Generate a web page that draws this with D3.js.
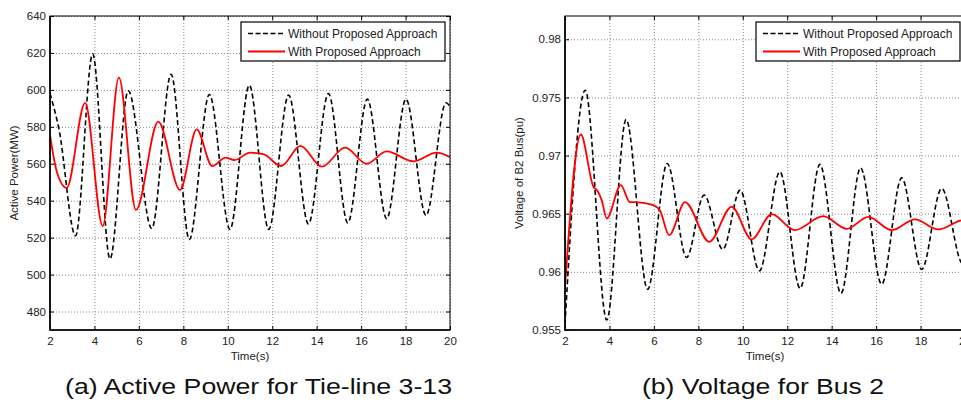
<!DOCTYPE html>
<html>
<head>
<meta charset="utf-8">
<script src="https://cdn.jsdelivr.net/npm/d3@7"></script>
<style>
  body { margin: 0; background: #fff; }
  svg { display: block; font-family: "Liberation Sans", Arial, sans-serif; }
</style>
</head>
<body>
<div id="chart"></div>
<script>
// ---- data: [time (s), value] at peaks / troughs / bends ----
var timeTicks = [2, 4, 6, 8, 10, 12, 14, 16, 18, 20];
var powerTicks = [480, 500, 520, 540, 560, 580, 600, 620, 640];
var voltageTicks = [0.955, 0.96, 0.965, 0.97, 0.975, 0.98];
var voltageTickLabels = ["0.955", "0.96", "0.965", "0.97", "0.975", "0.98"];

var powerWithout = [[2, 598], [2.4, 579], [3.15, 521], [3.92, 619.5], [4.7, 508.5], [5.52, 599.5],
  [6.58, 525], [7.45, 608.5], [8.27, 519], [9.17, 597.5], [10.1, 524.5], [10.97, 602.5],
  [11.84, 524.5], [12.74, 597.2], [13.63, 527.4], [14.53, 598], [15.4, 528], [16.28, 595],
  [17.15, 530.3], [18.02, 595], [18.92, 532], [19.82, 593], [20, 591]];
var powerWith = [[2, 575.6], [2.3, 556], [2.75, 547], [3.58, 593], [4.37, 526.3], [5.1, 606.6],
  [5.87, 535], [6.87, 582.8], [7.85, 545.8], [8.6, 578.6], [9.3, 558.7], [9.9, 563.3],
  [10.3, 562], [11, 566], [11.6, 565.2], [12.4, 558.8], [13.27, 569.7], [14.23, 558.4],
  [15.28, 568.7], [16.25, 560], [17.15, 566.7], [18.35, 561.3], [19.4, 566], [20, 563.6]];

var voltageWithout = [[2, 0.9555], [2.91, 0.97562], [3.88, 0.95586], [4.75, 0.9731], [5.72, 0.9585],
  [6.6, 0.96932], [7.47, 0.96124], [8.26, 0.9666], [9.1, 0.96193], [9.88, 0.96703],
  [10.75, 0.96009], [11.67, 0.9686], [12.58, 0.95858], [13.47, 0.96924], [14.42, 0.95815],
  [15.3, 0.96894], [16.25, 0.95893], [17.15, 0.96808], [18.05, 0.96021], [18.95, 0.96717],
  [19.9, 0.9607], [20, 0.9609]];
var voltageWith = [[2, 0.9587], [2.71, 0.97181], [3.28, 0.96731], [3.45, 0.9670], [3.65, 0.96617],
  [3.88, 0.9646], [4.51, 0.96746], [4.92, 0.9660], [5.3, 0.96598], [5.97, 0.96574],
  [6.27, 0.9653], [6.69, 0.96316], [7.4, 0.9660], [8.49, 0.96259], [9.5, 0.96559],
  [10.4, 0.9628], [11.3, 0.96497], [12.34, 0.96359], [13.62, 0.96479], [14.68, 0.9637],
  [15.65, 0.96473], [16.7, 0.96359], [17.75, 0.96451], [18.8, 0.96365], [19.78, 0.9644], [20, 0.9645]];

var svg = d3.select("#chart")
  .append("svg")
    .attr("width", 961)
    .attr("height", 403);

function drawPanel(p) {
  var x = d3.scaleLinear().domain([2, 20]).range([p.left, p.left + 400]);
  var y = d3.scaleLinear().domain(p.yDomain).range([p.bottom, p.top]);
  var g = svg.append("g");

  // clip to the plot box
  g.append("clipPath").attr("id", p.id + "-clip")
    .append("rect")
      .attr("x", x.range()[0]).attr("y", p.top)
      .attr("width", 400).attr("height", p.bottom - p.top);

  // dotted grid
  g.append("g")
      .attr("transform", "translate(0," + p.bottom + ")")
      .call(d3.axisBottom(x).tickValues(timeTicks).tickSize(-(p.bottom - p.top)).tickFormat(""))
      .call(function(a) { a.select(".domain").remove(); })
      .selectAll("line").attr("stroke", "#888").attr("stroke-dasharray", "1,2");
  g.append("g")
      .attr("transform", "translate(" + p.left + ",0)")
      .call(d3.axisLeft(y).tickValues(p.yTicks).tickSize(-400).tickFormat(""))
      .call(function(a) { a.select(".domain").remove(); })
      .selectAll("line").attr("stroke", "#888").attr("stroke-dasharray", "1,2");

  // curves
  var line = d3.line()
      .x(function(d) { return x(d[0]); })
      .y(function(d) { return y(d[1]); })
      .curve(d3.curveMonotoneX);
  var curves = g.append("g").attr("clip-path", "url(#" + p.id + "-clip)");
  curves.append("path").datum(p.without)
      .attr("d", line).attr("fill", "none")
      .attr("stroke", "#000").attr("stroke-width", 1.6).attr("stroke-dasharray", "5,3");
  curves.append("path").datum(p.with)
      .attr("d", line).attr("fill", "none")
      .attr("stroke", "#ff0000").attr("stroke-width", 1.8);

  // axes, MATLAB style: ticks pointing inward on all four sides
  var bottomAxis = g.append("g")
      .attr("transform", "translate(0," + p.bottom + ")")
      .call(d3.axisBottom(x).tickValues(timeTicks).tickSize(-4).tickPadding(7).tickFormat(d3.format("d")));
  var leftAxis = g.append("g")
      .attr("transform", "translate(" + p.left + ",0)")
      .call(d3.axisLeft(y).tickValues(p.yTicks).tickSize(-4).tickPadding(4)
        .tickFormat(function(d, i) { return p.yLabels[i]; }));
  g.append("g")
      .attr("transform", "translate(0," + p.top + ")")
      .call(d3.axisTop(x).tickValues(timeTicks).tickSize(-4).tickFormat(""));
  g.append("g")
      .attr("transform", "translate(" + (p.left + 400) + ",0)")
      .call(d3.axisRight(y).tickValues(p.yTicks).tickSize(-4).tickFormat(""));
  g.selectAll(".domain").remove();
  g.selectAll(".tick text")
      .attr("fill", "#222")
      .style("font-size", "11.5px")
      .style("font-family", "'Liberation Sans', Arial, sans-serif");

  // box
  g.append("rect")
      .attr("x", p.left).attr("y", p.top)
      .attr("width", 400).attr("height", p.bottom - p.top)
      .attr("fill", "none").attr("stroke", "#000").attr("stroke-width", 1);
  g.append("path")
      .attr("d", "M" + p.left + "," + p.top + "V" + p.bottom + "H" + (p.left + 400))
      .attr("fill", "none").attr("stroke", "#000").attr("stroke-width", 1.6);

  // axis titles
  g.append("text")
      .attr("x", p.left + 200).attr("y", p.bottom + 30)
      .attr("text-anchor", "middle")
      .style("font-size", "11.5px").attr("fill", "#222")
      .text("Time(s)");
  g.append("text")
      .attr("transform", "translate(" + p.yTitleX + "," + ((p.top + p.bottom) / 2) + ") rotate(-90)")
      .attr("text-anchor", "middle").attr("dy", "0.35em")
      .style("font-size", "11.5px").attr("fill", "#222")
      .text(p.yTitle);

  // handmade legend
  var lx = p.left + 400 - 209, ly = p.top + 6;
  g.append("rect")
      .attr("x", lx).attr("y", ly).attr("width", 204).attr("height", 39)
      .attr("fill", "#fff").attr("stroke", "#000").attr("stroke-width", 1.2);
  g.append("line").attr("x1", lx + 7).attr("x2", lx + 44).attr("y1", ly + 11.5).attr("y2", ly + 11.5)
      .attr("stroke", "#000").attr("stroke-width", 1.6).attr("stroke-dasharray", "5,2.5");
  g.append("line").attr("x1", lx + 7).attr("x2", lx + 44).attr("y1", ly + 29.5).attr("y2", ly + 29.5)
      .attr("stroke", "#ff0000").attr("stroke-width", 1.8);
  g.append("text").attr("x", lx + 47).attr("y", ly + 15.8)
      .style("font-size", "12px").attr("fill", "#222").text("Without Proposed Approach");
  g.append("text").attr("x", lx + 47).attr("y", ly + 33.8)
      .style("font-size", "12px").attr("fill", "#222").text("With Proposed Approach");

  // caption
  g.append("text")
      .attr("x", p.captionX).attr("y", 394)
      .attr("textLength", p.captionWidth).attr("lengthAdjust", "spacingAndGlyphs")
      .style("font-size", "22px").attr("fill", "#111")
      .text(p.caption);
}

drawPanel({
  id: "a", left: 50, top: 16, bottom: 330,
  yDomain: [470, 640], yTicks: powerTicks, yLabels: powerTicks.map(String),
  without: powerWithout, with: powerWith,
  yTitle: "Active Power(MW)", yTitleX: 14,
  caption: "(a) Active Power for Tie-line 3-13", captionX: 65, captionWidth: 387
});

drawPanel({
  id: "b", left: 565, top: 16, bottom: 330,
  yDomain: [0.955, 0.982], yTicks: voltageTicks, yLabels: voltageTickLabels,
  without: voltageWithout, with: voltageWith,
  yTitle: "Voltage of B2 Bus(pu)", yTitleX: 519,
  caption: "(b) Voltage for Bus 2", captionX: 642, captionWidth: 242
});
</script>
</body>
</html>
